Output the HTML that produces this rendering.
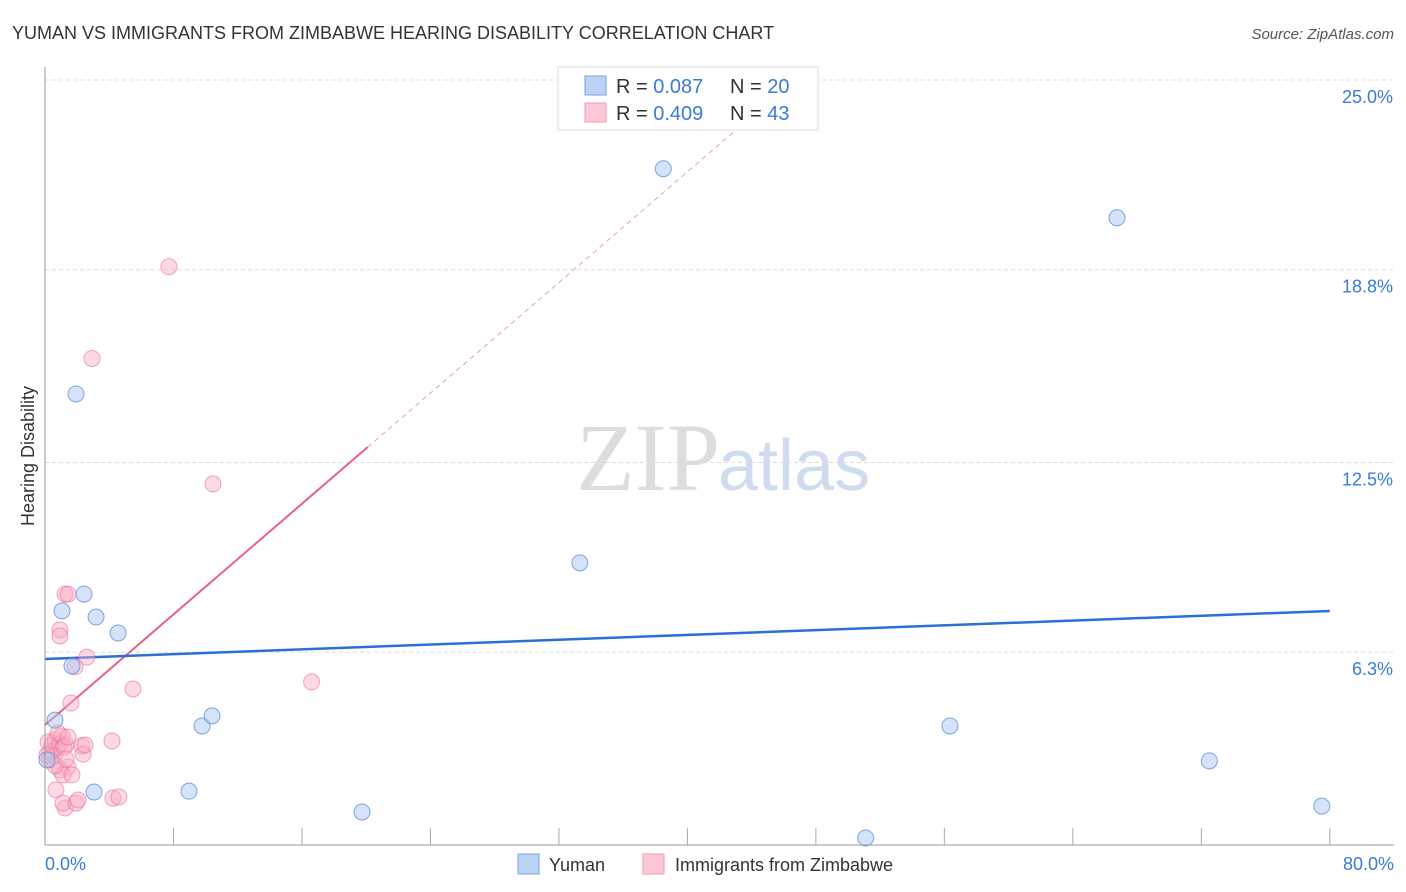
<!DOCTYPE html>
<html><head><meta charset="utf-8"><style>
body{margin:0;background:#fff;font-family:"Liberation Sans",sans-serif;}
svg{display:block}
</style></head><body>
<svg id="chart" width="1406" height="892" xmlns="http://www.w3.org/2000/svg">
<text x="12" y="39" font-size="18" fill="#333">YUMAN VS IMMIGRANTS FROM ZIMBABWE HEARING DISABILITY CORRELATION CHART</text>
<text x="1394" y="39" font-size="15" font-style="italic" fill="#555" text-anchor="end">Source: ZipAtlas.com</text>
<text x="720" y="490" font-size="96" font-family="Liberation Serif,serif" fill="#ddd" text-anchor="end">ZIP</text>
<text x="718" y="490" font-size="72" fill="#cfdcf0">atlas</text>
<text x="34" y="456" font-size="18" fill="#333" text-anchor="middle" transform="rotate(-90 34 456)">Hearing Disability</text>
<g id="grid"></g><g id="ticks"></g><g id="lines"></g><g id="pts"></g>
<line x1="45" y1="67" x2="45" y2="845" stroke="#999" stroke-width="1"/>
<line x1="45" y1="845" x2="1394" y2="845" stroke="#999" stroke-width="1"/>
<text x="45" y="870" font-size="18" fill="#3a7bd5">0.0%</text>
<text x="1394" y="870" font-size="18" fill="#3a7bd5" text-anchor="end">80.0%</text>
<g>
<rect x="558" y="67" width="260" height="63" fill="#fff" stroke="#ddd"/>
<rect x="585" y="76" width="21" height="19" fill="#bcd3f5" stroke="#7aa3e0"/>
<rect x="585" y="103" width="21" height="19" fill="#fcc8d6" stroke="#f09ab3"/>
<text x="616" y="93" font-size="20" fill="#333">R = <tspan fill="#3a7bd5">0.087</tspan><tspan x="730">N = </tspan><tspan fill="#3a7bd5">20</tspan></text>
<text x="616" y="120" font-size="20" fill="#333">R = <tspan fill="#3a7bd5">0.409</tspan><tspan x="730">N = </tspan><tspan fill="#3a7bd5">43</tspan></text>
</g>
<g><rect x="518" y="854" width="21" height="20" fill="#bcd3f5" stroke="#7aa3e0"/><text x="549" y="871" font-size="18" fill="#333">Yuman</text></g>
<g><rect x="643" y="854" width="21" height="20" fill="#fcc8d6" stroke="#f09ab3"/><text x="675" y="871" font-size="18" fill="#333">Immigrants from Zimbabwe</text></g>
</svg>
<script>
const yTicks=[6.3,12.5,18.8,25.0];
const xTicks=[8,16,24,32,40,48,56,64,72,80];
const blueX=[1.93,1.06,2.43,3.18,4.55,1.68,0.62,9.78,10.4,3.05,8.97,19.74,33.3,38.5,66.75,51.1,56.35,72.5,79.5,0.12];
const blueY=[14.74,7.65,8.2,7.45,6.93,5.85,4.08,3.89,4.22,1.73,1.76,1.08,9.22,22.1,20.5,0.23,3.89,2.75,1.27,2.78];
const pinkX=[7.72,2.93,10.46,1.25,1.43,0.93,0.93,2.6,1.87,5.48,16.6,1.62,4.17,2.3,2.37,0.44,0.62,0.75,0.31,0.93,0.56,1.06,0.19,0.81,1.31,0.31,1.18,1.43,0.93,1.12,1.68,0.68,1.25,1.12,1.93,2.06,4.23,4.6,2.49,0.62,1.43,0.12,1.31];
const pinkY=[18.9,15.9,11.8,8.2,8.2,7.03,6.83,6.14,5.82,5.1,5.33,4.64,3.4,3.24,2.97,3.27,3.43,3.17,3.04,3.3,2.91,3.56,3.37,3.66,3.27,2.78,3.2,2.55,2.45,2.29,2.29,1.8,1.21,1.37,1.37,1.47,1.53,1.57,3.27,2.6,3.53,2.94,2.81];
const blueTrend=[6.08,0.0196];
const pinkTrend=[3.92,0.452];
const X=v=>45+v*16.06, Y=v=>845-v*30.6;
const NS='http://www.w3.org/2000/svg';
function mk(tag,at,parent){const e=document.createElementNS(NS,tag);for(const k in at)e.setAttribute(k,at[k]);document.getElementById(parent).appendChild(e);return e;}
yTicks.forEach(t=>{
 const l=mk('line',{x1:45,x2:1394,y1:Y(t),y2:Y(t),stroke:'#ddd','stroke-dasharray':'4 3'},'grid');
 
 
 const tx=mk('text',{x:1393,y:Y(t)+23,'font-size':18,fill:'#3a7bd5','text-anchor':'end'},'grid');
 tx.textContent=t.toFixed(1)+'%';
 
 
});
xTicks.forEach(t=>{
 const l=mk('line',{x1:X(t),x2:X(t),y1:828,y2:845,stroke:'#aaa'},'ticks');
 
 
});
let l=mk('line',{x1:X(0),y1:Y(pinkTrend[0]),x2:X(20.1),y2:Y(pinkTrend[0]+pinkTrend[1]*20.1),stroke:'#e8608a','stroke-width':2},'lines');


l=mk('line',{x1:X(20.1),y1:Y(pinkTrend[0]+pinkTrend[1]*20.1),x2:X(43),y2:Y(pinkTrend[0]+pinkTrend[1]*43),stroke:'#e8a0b4','stroke-width':1,'stroke-dasharray':'5 4'},'lines');


l=mk('line',{x1:X(0),y1:Y(blueTrend[0]),x2:X(80),y2:Y(blueTrend[0]+blueTrend[1]*80),stroke:'#2a6fd6','stroke-width':2.5},'lines');


pinkX.forEach((v,i)=>{
 const c=mk('circle',{cx:X(v),cy:Y(pinkY[i]),r:8,fill:'rgba(248,170,195,0.45)',stroke:'rgba(232,110,150,0.6)','stroke-width':1},'pts');
 
 
});
blueX.forEach((v,i)=>{
 const c=mk('circle',{cx:X(v),cy:Y(blueY[i]),r:8,fill:'rgba(170,200,240,0.5)',stroke:'rgba(80,130,220,0.7)','stroke-width':1},'pts');
 
 
});
</script>
</body></html>
